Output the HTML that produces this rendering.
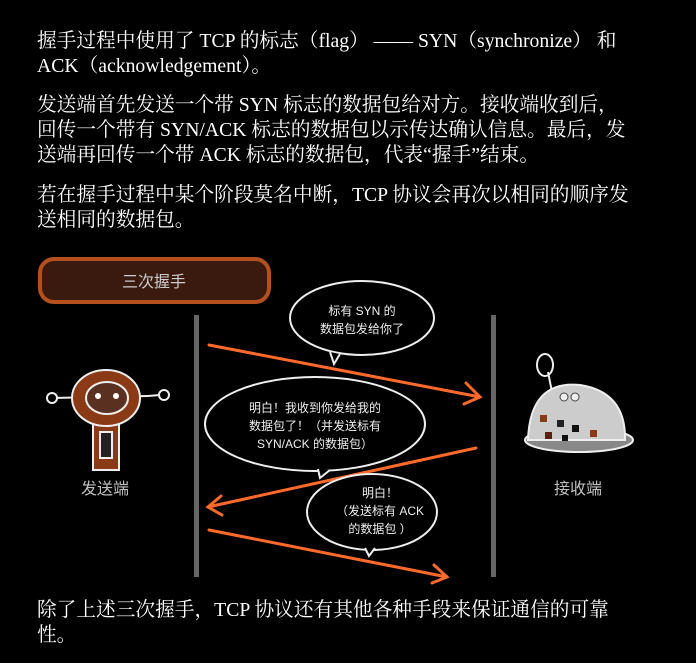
<!DOCTYPE html>
<html><head><meta charset="utf-8"><style>
body{margin:0;background:#000;width:696px;height:663px;overflow:hidden;position:relative;font-family:"Liberation Serif","Noto Serif CJK SC",serif;color:#fff}
p{position:absolute;left:37px;margin:0;font-size:19.7px;line-height:25px;width:650px;white-space:nowrap}
</style></head><body>
<p style="top:29px">握手过程中使用了 TCP 的标志（flag） —— SYN（synchronize） 和<br>ACK（acknowledgement）。</p>
<p style="top:93px">发送端首先发送一个带 SYN 标志的数据包给对方。接收端收到后，<br>回传一个带有 SYN/ACK 标志的数据包以示传达确认信息。最后，发<br>送端再回传一个带 ACK 标志的数据包，代表“握手”结束。</p>
<p style="top:183px">若在握手过程中某个阶段莫名中断，TCP 协议会再次以相同的顺序发<br>送相同的数据包。</p>
<p style="top:598px">除了上述三次握手，TCP 协议还有其他各种手段来保证通信的可靠<br>性。</p>
<svg width="696" height="663" style="position:absolute;left:0;top:0" font-family="Liberation Sans,Noto Sans CJK SC,sans-serif">
<rect x="40" y="259" width="229" height="43" rx="14" fill="#3a1a0e" stroke="#b5501e" stroke-width="4"/>
<text x="154" y="287" fill="#ccc" font-size="16" text-anchor="middle">三次握手</text>
<rect x="194" y="315" width="5" height="262" fill="#666"/>
<rect x="491" y="315" width="5" height="262" fill="#666"/>
<g stroke="#ff6a2a" stroke-width="3" fill="none" stroke-linecap="round">
<path d="M209 345 L480 397 M466 383 L480 397 L464 404"/>
<path d="M476 448 L208 507 M221 496 L208 507 L222 515"/>
<path d="M209 530 L447 577 M434 565 L447 577 L432 583"/>
</g>
<g stroke="#eee" stroke-width="2" fill="#000">
<ellipse cx="362" cy="318" rx="72" ry="37"/>
<path d="M330 352 L334 364 L340 354" />
<ellipse cx="315" cy="424" rx="110" ry="47"/>
<path d="M318 469 L320 478 L330 470"/>
<ellipse cx="372" cy="512" rx="65" ry="38"/>
<path d="M365 548 L369 556 L375 548"/>
</g>
<g fill="#eee" font-size="12" text-anchor="middle">
<text x="362" y="315">标有 SYN 的</text><text x="362" y="333">数据包发给你了</text>
<text x="315" y="412">明白！我收到你发给我的</text><text x="315" y="430">数据包了！（并发送标有</text><text x="315" y="448">SYN/ACK 的数据包）</text>
<text x="380" y="497">明白！</text><text x="380" y="515">（发送标有 ACK</text><text x="380" y="533">的数据包 ）</text>
</g>
<g stroke="#eee" stroke-width="2">
<line x1="52" y1="398" x2="148" y2="396"/>
<circle cx="52" cy="398" r="5" fill="#000"/><circle cx="164" cy="395" r="5" fill="#000"/>
<line x1="148" y1="396" x2="160" y2="395"/>
<rect x="93" y="415" width="26" height="55" fill="#8b3a16"/>
<ellipse cx="106" cy="398" rx="34" ry="28" fill="#8b3a16"/>
<ellipse cx="107" cy="398" rx="21" ry="16" fill="#5a3020"/>
<rect x="100" y="432" width="12" height="26" fill="#222"/>
</g>
<circle cx="98" cy="396" r="3" fill="#fff"/><circle cx="116" cy="396" r="3" fill="#fff"/>
<g stroke="#eee" stroke-width="2">
<ellipse cx="545" cy="365" rx="8" ry="11" fill="#000"/>
<line x1="548" y1="372" x2="552" y2="392"/>
<ellipse cx="579" cy="440" rx="54" ry="12" fill="#888"/>
<path d="M528 440 Q530 380 580 385 Q626 392 625 440 Z" fill="#ccc"/>
</g>
<rect x="540" y="415" width="7" height="7" fill="#8b3a16"/><rect x="557" y="420" width="7" height="7" fill="#222"/><rect x="545" y="432" width="7" height="7" fill="#5a2010"/><rect x="572" y="425" width="7" height="7" fill="#111"/><rect x="590" y="430" width="7" height="7" fill="#8b3a16"/><rect x="562" y="435" width="6" height="6" fill="#111"/>
<circle cx="564" cy="397" r="4" fill="#eee" stroke="#444"/><circle cx="575" cy="397" r="4" fill="#eee" stroke="#444"/>
<g fill="#c0c0c0" font-size="16" text-anchor="middle">
<text x="105" y="494">发送端</text><text x="578" y="494">接收端</text>
</g>
</svg>
</body></html>
